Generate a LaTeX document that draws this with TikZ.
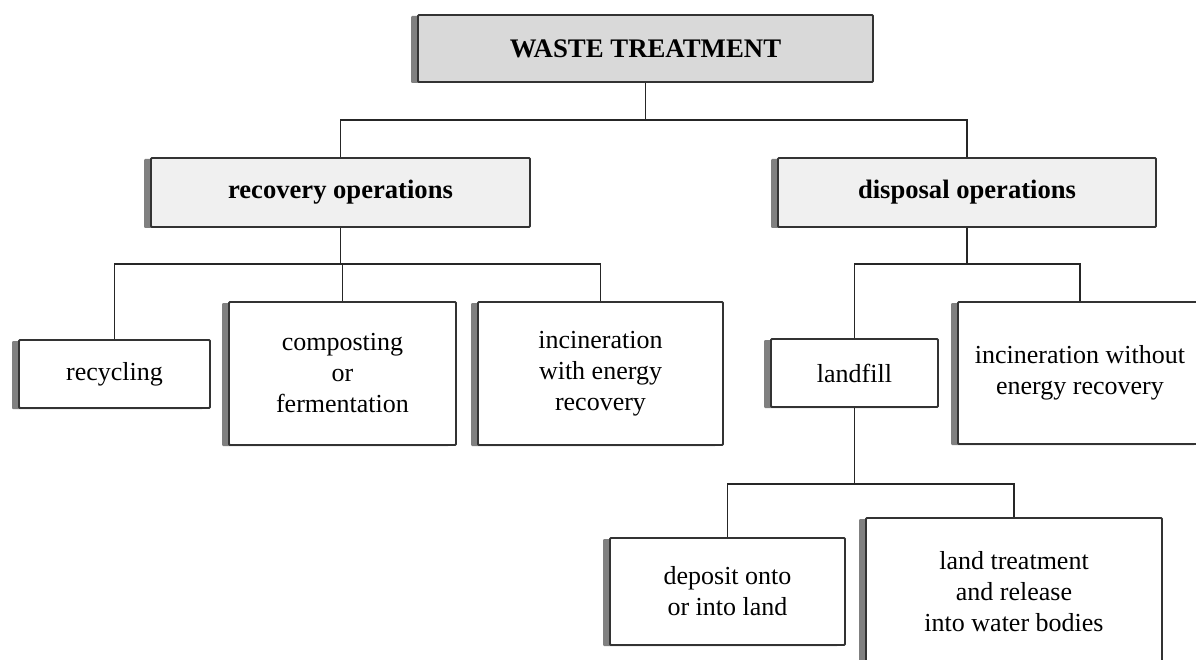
\documentclass[tikz,border=0pt]{standalone}
\usepackage{fontspec}
\setmainfont{Liberation Serif}
\usetikzlibrary{shadows}

\tikzset{
	box/.style={draw=black!80,line width=1.8pt,rounded corners=1pt,fill=white,
		inner sep=0pt,align=center,font=\fontsize{26}{31}\selectfont,
		drop shadow={shadow xshift=-7pt,shadow yshift=-1pt,fill=black!50,opacity=1}},
	head/.style={box,fill=black!15,font=\fontsize{26.8}{31}\selectfont\bfseries},
	sub/.style={box,fill=black!6,font=\fontsize{26.6}{31}\selectfont\bfseries},
	link/.style={draw=black!85,line width=1.8pt}
}

\begin{document}
\begin{tikzpicture}[x=1pt,y=-1pt]
		\fill[white] (0,0) rectangle (1196,660);
		\clip (0,0) rectangle (1196,660);

		\node[head,minimum width=455,minimum height=67] (waste) at (645.5,48.5) {WASTE TREATMENT};
		\node[sub,minimum width=379,minimum height=69] (recovery) at (340.5,192.5) {recovery operations};
		\node[sub,minimum width=378,minimum height=69] (disposal) at (967,192.5) {disposal operations};

		\node[box,minimum width=191,minimum height=68] (recycling) at (114.5,374) {recycling};
		\node[box,minimum width=227,minimum height=143] (composting) at (342.5,373.5) {composting\\or\\fermentation};
		\node[box,minimum width=245,minimum height=143] (incinrec) at (600.5,373.5) {incineration\\with energy\\recovery};
		\node[box,minimum width=167,minimum height=68] (landfill) at (854.5,373) {landfill};
		\node[box,minimum width=244,minimum height=142] (incinnorec) at (1080,373) {incineration without\\energy recovery};
		\node[box,minimum width=235,minimum height=107] (deposit) at (727.5,591.5) {deposit onto\\or into land};
		\node[box,minimum width=296,minimum height=148] (landtreat) at (1014,592) {land treatment\\and release\\into water bodies};

		% first level
		\draw[link] (waste.south) -- (waste.south |- 0,120);
		\draw[link] (recovery.north) |- (disposal.north |- 0,120) -- (disposal.north);

		% recovery branch
		\draw[link] (recovery.south) -- (recovery.south |- 0,264);
		\draw[link] (recycling.north) |- (incinrec.north |- 0,264) -- (incinrec.north);
		\draw[link] (composting.north) -- (composting.north |- 0,264);

		% disposal branch
		\draw[link] (disposal.south) -- (disposal.south |- 0,264);
		\draw[link] (landfill.north) |- (incinnorec.north |- 0,264) -- (incinnorec.north);

		% landfill branch
		\draw[link] (landfill.south) -- (landfill.south |- 0,484);
		\draw[link] (deposit.north) |- (landtreat.north |- 0,484) -- (landtreat.north);
	\end{tikzpicture}
\end{document}
